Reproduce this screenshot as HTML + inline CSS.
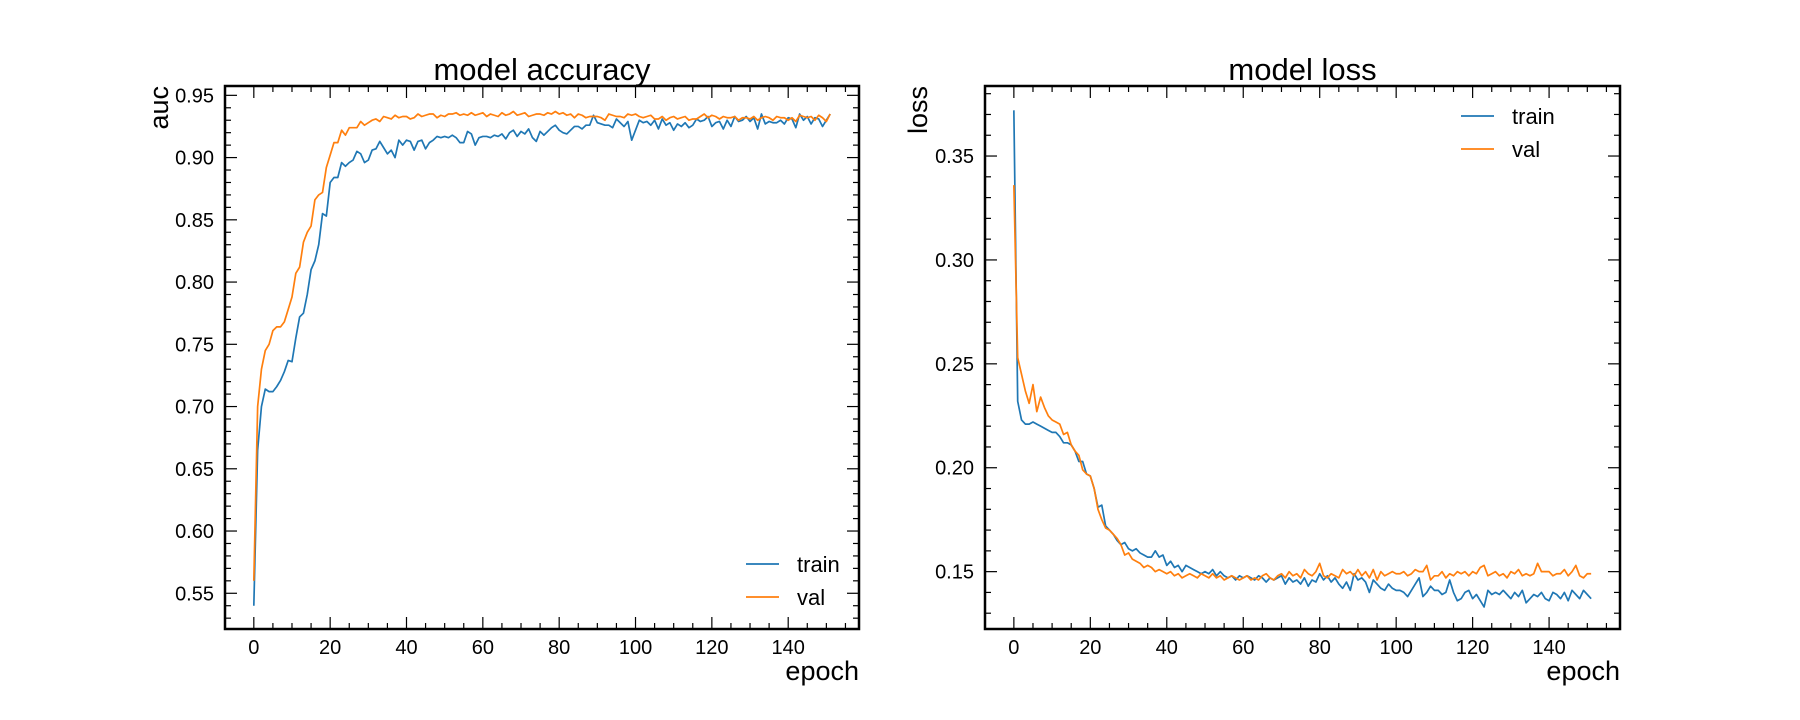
<!DOCTYPE html>
<html><head><meta charset="utf-8">
<style>
html,body{margin:0;padding:0;background:#fff;}
svg{display:block;font-family:"Liberation Sans",sans-serif;}
</style></head>
<body>
<svg id="fig" width="1800" height="720" viewBox="0 0 1800 720" xmlns="http://www.w3.org/2000/svg"></svg>
<script>
const epochTicks = [0,20,40,60,80,100,120,140];
const accTicks = [0.55,0.60,0.65,0.70,0.75,0.80,0.85,0.90,0.95];
const lossTicks = [0.15,0.20,0.25,0.30,0.35];
const accTrain = [.540,.665,.700,.714,.712,.712,.716,.721,.728,.737,
.736,.755,.772,.775,.790,.810,.817,.830,.855,.853,
.880,.884,.884,.896,.893,.896,.898,.905,.903,.896,
.898,.906,.907,.913,.908,.903,.906,.900,.914,.910,
.914,.913,.906,.913,.914,.907,.912,.914,.917,.916,
.917,.916,.918,.916,.912,.912,.921,.919,.910,.916,
.917,.917,.916,.918,.917,.919,.915,.920,.922,.917,
.921,.919,.923,.916,.913,.921,.918,.921,.924,.926,
.922,.920,.919,.922,.925,.925,.923,.926,.926,.934,
.928,.927,.926,.926,.924,.931,.928,.925,.929,.914,
.922,.930,.928,.929,.926,.930,.923,.931,.926,.928,
.922,.927,.925,.928,.924,.926,.931,.929,.930,.933,
.925,.928,.929,.923,.930,.925,.933,.929,.930,.933,
.929,.932,.923,.935,.927,.929,.928,.928,.930,.927,
.932,.931,.924,.935,.930,.933,.927,.932,.931,.925,.930,.935];
const accVal = [.560,.700,.730,.745,.750,.761,.764,.764,.768,.778,
.788,.807,.812,.832,.840,.845,.866,.870,.872,.892,
.902,.912,.912,.922,.918,.924,.924,.924,.929,.926,
.928,.930,.931,.929,.933,.932,.931,.934,.932,.933,
.933,.931,.932,.935,.933,.934,.935,.935,.932,.934,
.933,.935,.935,.936,.934,.935,.934,.936,.934,.935,
.936,.933,.935,.934,.933,.936,.934,.935,.937,.934,
.935,.936,.933,.934,.935,.935,.934,.936,.935,.937,
.935,.936,.934,.935,.932,.935,.934,.932,.933,.933,
.933,.932,.930,.935,.934,.933,.933,.932,.935,.934,
.935,.933,.932,.933,.934,.931,.931,.933,.930,.932,
.933,.931,.932,.933,.930,.931,.931,.933,.935,.932,
.934,.933,.931,.933,.932,.932,.933,.930,.932,.932,
.931,.933,.930,.932,.933,.932,.930,.933,.932,.932,
.930,.932,.929,.934,.933,.932,.933,.930,.934,.932,.929,.935];
const lossTrain = [.372,.232,.223,.221,.221,.222,.221,.220,.219,.218,
.217,.217,.215,.212,.212,.211,.208,.203,.203,.197,
.196,.190,.181,.182,.172,.170,.168,.165,.163,.164,
.161,.160,.161,.159,.158,.157,.157,.160,.157,.158,
.153,.155,.152,.153,.150,.153,.152,.151,.150,.149,
.150,.149,.151,.148,.150,.148,.147,.148,.146,.148,
.147,.148,.147,.146,.148,.147,.145,.147,.146,.147,
.148,.144,.147,.145,.146,.144,.147,.143,.146,.145,
.149,.146,.148,.145,.147,.144,.142,.145,.141,.149,
.146,.147,.145,.140,.146,.144,.142,.141,.144,.142,
.141,.141,.140,.138,.141,.144,.147,.138,.140,.143,
.141,.141,.139,.140,.146,.140,.136,.137,.140,.141,
.137,.139,.136,.133,.141,.139,.140,.139,.141,.139,
.137,.140,.138,.141,.135,.137,.139,.138,.140,.137,
.136,.140,.139,.137,.140,.136,.141,.139,.137,.141,.139,.137];
const lossVal = [.336,.253,.245,.237,.231,.240,.227,.234,.229,.225,
.223,.222,.221,.216,.217,.211,.208,.206,.199,.197,
.196,.190,.180,.175,.171,.170,.168,.166,.163,.158,
.159,.156,.155,.154,.152,.153,.152,.150,.151,.150,
.149,.150,.148,.149,.147,.148,.149,.148,.147,.149,
.148,.147,.149,.147,.148,.146,.147,.148,.147,.146,
.147,.148,.146,.147,.146,.148,.149,.147,.146,.148,
.149,.147,.150,.148,.149,.147,.151,.149,.148,.150,
.154,.148,.147,.149,.148,.147,.151,.149,.150,.148,
.151,.148,.150,.147,.151,.146,.150,.148,.149,.150,
.149,.149,.150,.148,.149,.151,.150,.150,.153,.146,
.148,.148,.150,.147,.149,.148,.150,.149,.150,.148,
.150,.149,.152,.153,.148,.149,.150,.148,.149,.147,
.150,.149,.151,.148,.149,.148,.149,.154,.150,.150,
.150,.148,.149,.149,.151,.148,.150,.153,.148,.147,.149,.149];

const NS='http://www.w3.org/2000/svg';
const svg=document.getElementById('fig');
function mk(tag,attrs,parent){const e=document.createElementNS(NS,tag);for(const k in attrs)e.setAttribute(k,attrs[k]);(parent||svg).appendChild(e);return e;}

function panel(cfg){
  const g=mk('g',{});
  
  
  const L=cfg.left,R=cfg.right,T=86,B=629;
  const n=cfg.train.length-1, m=n*0.05;
  const xmin=-m,xmax=n+m;
  const X=v=>L+(v-xmin)/(xmax-xmin)*(R-L);
  const Y=v=>B-(v-cfg.ymin)/(cfg.ymax-cfg.ymin)*(B-T);
  const clip=mk('clipPath',{id:cfg.name+'-clip'},g);
  mk('rect',{x:L,y:T,width:R-L,height:B-T},clip);
  [[cfg.train,'#1f77b4','train-line'],[cfg.val,'#ff7f0e','val-line']].forEach(([arr,col,nm])=>{
    const p=mk('polyline',{points:arr.map((v,i)=>X(i).toFixed(2)+','+Y(v).toFixed(2)).join(' '),fill:'none',stroke:col,'stroke-width':1.7,'stroke-linejoin':'round','clip-path':'url(#'+cfg.name+'-clip)'},g);
    
    
  });
  for(let v=0;v<=xmax;v+=5){
    const x=X(v);const major=v%20===0;const len=major?12:6;
    mk('line',{x1:x,y1:B,x2:x,y2:B-len,stroke:'#000','stroke-width':1.2},g);
    mk('line',{x1:x,y1:T,x2:x,y2:T+len,stroke:'#000','stroke-width':1.2},g);
  }
  epochTicks.forEach(v=>{
    const t=mk('text',{x:X(v),y:654,'font-size':20,'text-anchor':'middle',fill:'#000'},g);
    t.textContent=String(v);
    
    
  });
  const start=Math.ceil(cfg.ymin*100);
  for(let k=start;k/100<=cfg.ymax;k++){
    const y=Y(k/100);const major=k%5===0;const len=major?12:6;
    mk('line',{x1:L,y1:y,x2:L+len,y2:y,stroke:'#000','stroke-width':1.2},g);
    mk('line',{x1:R,y1:y,x2:R-len,y2:y,stroke:'#000','stroke-width':1.2},g);
  }
  cfg.yticks.forEach(v=>{
    const t=mk('text',{x:L-11,y:Y(v)+7,'font-size':20,'text-anchor':'end',fill:'#000'},g);
    t.textContent=v.toFixed(2);
    
    
  });
  const fr=mk('rect',{x:L,y:T,width:R-L,height:B-T,fill:'none',stroke:'#000','stroke-width':2.5},g);
  
  
  const ti=mk('text',{x:(L+R)/2,y:80,'font-size':31,'text-anchor':'middle',fill:'#000'},g);
  ti.textContent=cfg.title;
  
  
  const xl=mk('text',{x:R,y:680,'font-size':27,'text-anchor':'end',fill:'#000'},g);
  xl.textContent='epoch';
  
  
  const yl=mk('text',{x:0,y:0,'font-size':27,'text-anchor':'end',fill:'#000',transform:'translate('+(cfg.ylabX)+','+T+') rotate(-90)'},g);
  yl.textContent=cfg.ylabel;
  
  
  [['train','#1f77b4',0],['val','#ff7f0e',1]].forEach(([lab,col,i])=>{
    const ly=cfg.legY+i*33;
    const le=mk('g',{},g);
    
    
    mk('line',{x1:cfg.legX,y1:ly,x2:cfg.legX+33,y2:ly,stroke:col,'stroke-width':1.8},le);
    const t=mk('text',{x:cfg.legX+51,y:ly+8,'font-size':22,fill:'#000'},le);
    t.textContent=lab;
  });
}
panel({name:'accuracy-chart',title:'model accuracy',ylabel:'auc',left:225,right:859,ymin:0.5213,ymax:0.9575,yticks:accTicks,train:accTrain,val:accVal,ylabX:168,legX:746,legY:564});
panel({name:'loss-chart',title:'model loss',ylabel:'loss',left:985,right:1620,ymin:0.1224,ymax:0.3837,yticks:lossTicks,train:lossTrain,val:lossVal,ylabX:927,legX:1461,legY:116});
</script>
</body></html>
